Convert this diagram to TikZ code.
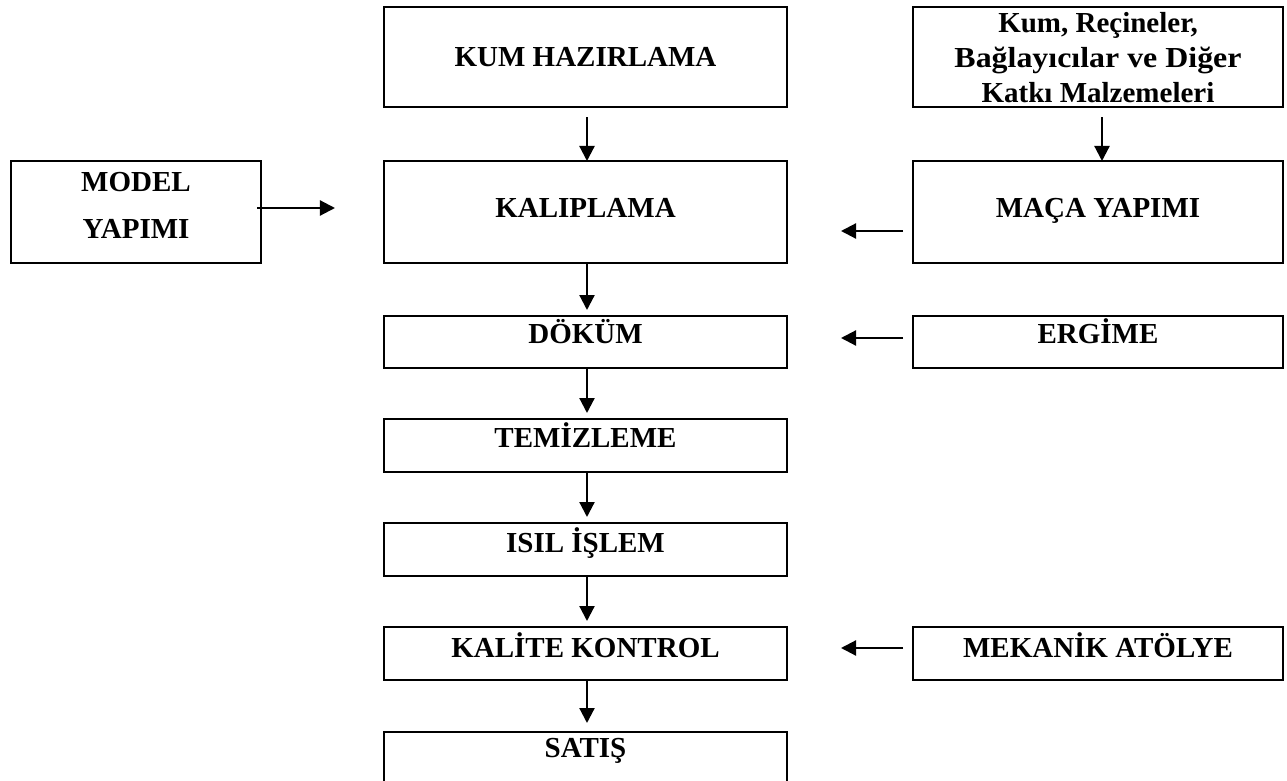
\documentclass[tikz,border=0pt]{standalone}
\usepackage{fontspec}
\usepackage{graphicx}
\setmainfont{Liberation Serif}
\usetikzlibrary{arrows.meta}
\begin{document}
\begin{tikzpicture}[x=1bp,y=-1bp,
  box/.style={draw, line width=2.5bp, rectangle, inner sep=0, outer sep=0},
  wbox/.style={box, minimum width=403bp},
  rbox/.style={box, minimum width=370bp},
  txt/.style={anchor=base, inner sep=0, align=center,
    font=\fontsize{29bp}{35bp}\selectfont\bfseries},
  arr/.style={line width=2.2bp, -{Triangle[length=15bp,width=15bp]}}]
\useasboundingbox (0,0) rectangle (1287,781);
\clip (0,0) rectangle (1287,781);
% boxes
\node[wbox, minimum height=100bp] (kum) at (585.5,57) {};
\node[rbox, minimum height=100bp] (mat) at (1098,57) {};
\node[box, minimum width=250bp, minimum height=102bp] (model) at (136,212) {};
\node[wbox, minimum height=102bp] (kal) at (585.5,212) {};
\node[rbox, minimum height=102bp] (maca) at (1098,212) {};
\node[wbox, minimum height=52bp] (dok) at (585.5,342) {};
\node[rbox, minimum height=52bp] (erg) at (1098,342) {};
\node[wbox, minimum height=53bp] (tem) at (585.5,445.5) {};
\node[wbox, minimum height=53bp] (isil) at (585.5,549.5) {};
\node[wbox, minimum height=53bp] (kk) at (585.5,653.5) {};
\node[rbox, minimum height=53bp] (mek) at (1098,653.5) {};
\node[wbox, minimum height=54bp] (sat) at (585.5,759) {};
% texts
\node[txt] (tkum) at (585.5,67) {KUM HAZIRLAMA};
\node[txt] (tmat) at (1098,103) {Kum, Reçineler,\\\scalebox{1.1}[1]{Bağlayıcılar ve Diğer}\\Katkı Malzemeleri};
\node[txt, font=\fontsize{29bp}{47bp}\selectfont\bfseries] (tmodel) at (136,238) {MODEL\\YAPIMI};
\node[txt] (tkal) at (585.5,217) {KALIPLAMA};
\node[txt] (tmaca) at (1098,217) {MAÇA YAPIMI};
\node[txt] (tdok) at (585.5,343) {DÖKÜM};
\node[txt] (terg) at (1098,343) {ERGİME};
\node[txt] (ttem) at (585.5,447) {TEMİZLEME};
\node[txt] (tisil) at (585.5,552) {ISIL İŞLEM};
\node[txt] (tkk) at (585.5,657) {KALİTE KONTROL};
\node[txt] (tmek) at (1098,657) {MEKANİK ATÖLYE};
\node[txt] (tsat) at (585.5,757) {SATIŞ};
% connectors
\draw[arr, shorten <=10bp] ([xshift=1.5bp]kum.south) -- ([xshift=1.5bp]kal.north);
\draw[arr, shorten <=10bp] ([xshift=4bp]mat.south) -- ([xshift=4bp]maca.north);
\draw[arr, shorten <=-4bp, shorten >=49bp] ([yshift=4bp]model.east) -- ([yshift=4bp]kal.west);
\draw[arr, shorten <=10bp, shorten >=54bp] ([yshift=-19bp]maca.west) -- ([yshift=-19bp]kal.east);
\draw[arr, shorten <=10bp, shorten >=54bp] ([yshift=4bp]erg.west) -- ([yshift=4bp]dok.east);
\draw[arr, shorten <=10bp, shorten >=54bp] ([yshift=5.5bp]mek.west) -- ([yshift=5.5bp]kk.east);
\draw[arr, shorten >=6bp] ([xshift=1.5bp]kal.south) -- ([xshift=1.5bp]dok.north);
\draw[arr, shorten >=6bp] ([xshift=1.5bp]dok.south) -- ([xshift=1.5bp]tem.north);
\draw[arr, shorten >=6bp] ([xshift=1.5bp]tem.south) -- ([xshift=1.5bp]isil.north);
\draw[arr, shorten >=6bp] ([xshift=1.5bp]isil.south) -- ([xshift=1.5bp]kk.north);
\draw[arr, shorten >=9bp] ([xshift=1.5bp]kk.south) -- ([xshift=1.5bp]sat.north);
\end{tikzpicture}
\end{document}
